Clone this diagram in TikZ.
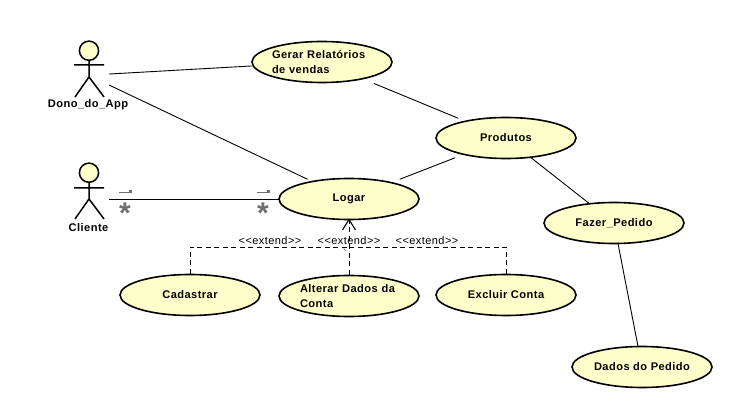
\documentclass[tikz,border=0pt]{standalone}
\usepackage{fontspec}
\setmainfont{Liberation Sans}
\newfontfamily\umlfont[LetterSpace=4]{Liberation Sans}
\usetikzlibrary{shapes.geometric,arrows.meta,calc}
\definecolor{ucfill}{HTML}{FFFFCC}
\definecolor{multgray}{HTML}{707070}
\tikzset{
  ucshape/.style={ellipse,draw=black,fill=ucfill,line width=1.6pt,minimum width=140pt,minimum height=41pt,inner sep=0pt},
  ucbox/.style={rectangle,minimum width=140pt,minimum height=39pt,inner sep=0pt,font=\umlfont\fontsize{11.1}{15}\selectfont\bfseries,align=center},
  ucboxleft/.style={ucbox,minimum height=42.5pt,text width=#1,align=left},
  actorbox/.style={rectangle,minimum width=41.4pt,minimum height=50pt,inner sep=0pt},
  actorpart/.style={draw=black,line width=1.5pt},
  actorname/.style={font=\umlfont\fontsize{11.1}{12}\selectfont\bfseries,inner sep=0pt},
  assoc/.style={draw=black,line width=0.9pt},
  ext/.style={draw=black,line width=0.8pt,dash pattern=on 5pt off 3.5pt},
  extlabel/.style={font=\umlfont\fontsize{11}{12}\selectfont,inner sep=0pt},
  multarrow/.style={draw=multgray,line width=0.7pt},
  multstar/.style={font=\fontsize{30}{30}\selectfont\bfseries,text=multgray,inner sep=0pt}
}
\begin{document}
\begin{tikzpicture}[x=1pt,y=-1pt]
\useasboundingbox (0,0) rectangle (747,411);
% actors
\node[actorbox] (dono) at (88.3,75.2) {};
\node[actorbox] (cliente) at (88.3,199) {};
\draw[actorpart,fill=ucfill] (89,50.7) circle (9.6);
\draw[actorpart] (89,60.5) -- (89,77) (74,65) -- (104,65) (75,97) -- (89,77) -- (104,97);
\draw[actorpart,fill=ucfill] (89,172.7) circle (9.6);
\draw[actorpart] (89,182.5) -- (89,199) (74,188) -- (104,188) (75,219) -- (89,199) -- (104,219);
\node[actorname] (donolabel) at (88,105) {Dono\_do\_App};
\node[actorname] (clientelabel) at (88.5,227.5) {Cliente};
% use cases
\node[ucshape] (gerarE) at (322,62) {};
\node[ucboxleft=96pt] (gerar) at (322,62) {\hspace*{-2pt}Gerar Relatórios\\[-0.5pt]\hspace*{-2pt}de vendas};
\node[ucshape] (produtosE) at (506,138) {};
\node[ucbox] (produtos) at (506,138) {Produtos};
\node[ucshape] (logarE) at (349,199) {};
\node[ucbox] (logar) at (349,199) {Logar};
\node[ucshape] (fazerE) at (614,223) {};
\node[ucbox] (fazer) at (614,223) {Fazer\_Pedido};
\node[ucshape] (cadastrarE) at (190,295) {};
\node[ucbox] (cadastrar) at (190,295) {Cadastrar};
\node[ucshape] (alterarE) at (349,296) {};
\node[ucboxleft=96pt] (alterar) at (349,296) {\hspace*{-1pt}Alterar Dados da\\[-0.5pt]\hspace*{-1pt}Conta};
\node[ucshape] (excluirE) at (506,295) {};
\node[ucbox] (excluir) at (506,295) {Excluir Conta};
\node[ucshape] (dadosE) at (642,367) {};
\node[ucbox] (dados) at (642,367) {Dados do Pedido};
% associations
\draw[assoc] (dono) -- (gerar);
\draw[assoc] (dono) -- (logar);
\draw[assoc] (cliente) -- (logar);
\draw[assoc] (gerar) -- (produtos);
\draw[assoc] (logar) -- (produtos);
\draw[assoc] (produtos) -- (fazer);
\draw[assoc] (fazer) -- (dados);
% extends
\coordinate (bus) at (349,247);
\draw[ext] (cadastrarE.north) |- (bus);
\draw[ext] (excluirE.north) |- (bus);
\draw[ext] (alterarE.north) -- (logarE.south);
\draw[draw=black,line width=1.1pt] (342.5,230) -- (349,219.5) -- (355.5,230);
\draw[multarrow] (343.5,248.5) -- (346,251);
\node[extlabel] (ext1) at (270,240.5) {<{}<extend>{}>};
\node[extlabel] (ext2) at (349,240.5) {<{}<extend>{}>};
\node[extlabel] (ext3) at (427,240.5) {<{}<extend>{}>};
% multiplicity marks
\coordinate (ma1) at (119,192); \coordinate (mb1) at (129,192);
\coordinate (ma2) at (257,192); \coordinate (mb2) at (267,192);
\draw[multarrow] (ma1) -- (mb1);
\fill[multgray] ($(mb1)+(-0.5,-1.5)$) rectangle +(3,3);
\draw[multarrow] (ma2) -- (mb2);
\fill[multgray] ($(mb2)+(-0.5,-1.5)$) rectangle +(3,3);
\node[multstar] (star1) at (125,213) {*};
\node[multstar] (star2) at (263,213) {*};
\end{tikzpicture}
\end{document}
